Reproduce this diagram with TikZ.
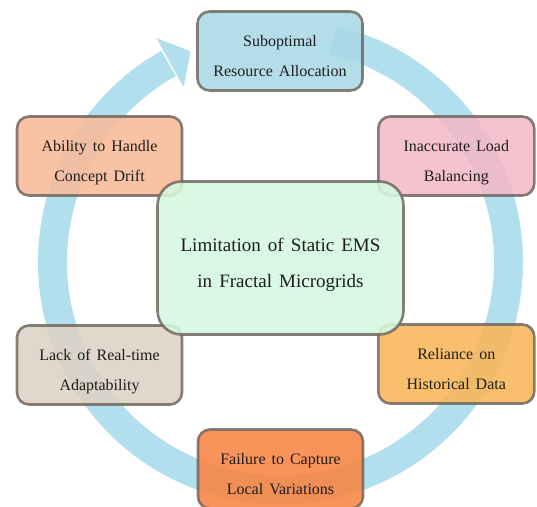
\documentclass[tikz,border=0pt]{standalone}
\usepackage{fontspec}
\setmainfont{Liberation Serif}[WordSpace=1.5]
\usetikzlibrary{calc}
\definecolor{ringc}{RGB}{178,223,238}
\definecolor{bordc}{RGB}{112,104,95}
\definecolor{txt}{RGB}{30,30,30}
\definecolor{cTop}{RGB}{170,216,231}
\definecolor{cAbil}{RGB}{249,186,152}
\definecolor{cInac}{RGB}{244,185,200}
\definecolor{cLack}{RGB}{222,210,197}
\definecolor{cReli}{RGB}{248,182,88}
\definecolor{cFail}{RGB}{248,132,66}
\definecolor{cCent}{RGB}{212,248,222}
\tikzset{
  box/.style={draw=bordc, line width=2.6pt, rounded corners=12pt,
    fill opacity=0.88, draw opacity=0.85, text opacity=1,
    align=center, text=txt, font=\fontsize{16}{30}\selectfont,
    inner sep=0pt, minimum width=165pt, minimum height=79pt,
    text height=51pt, text depth=0pt},
  bigbox/.style={box, rounded corners=24pt, font=\fontsize{19}{36}\selectfont,
    minimum width=246pt, minimum height=153pt, text height=60pt},
  ringline/.style={draw=ringc, line width=29pt, line cap=butt}
}
\begin{document}
\begin{tikzpicture}[x=1pt,y=1pt]
\useasboundingbox (0,0) rectangle (537,506);
\clip (0,0) rectangle (537,506);
\coordinate (C) at (280.5,244);
% ring arrow
\draw[ringline] (C) ++(76.7:228pt) arc[start angle=76.7, end angle=-240.6, radius=228pt];
\fill[ringc] ($(C)+(119:200pt)$) -- ($(C)+(119:256pt)$) -- ($(C)+(113.1:229pt)$) -- cycle;
% outer boxes
\node[box, fill=cTop] (top) at (280,455) {Suboptimal\\Resource Allocation};
\node[box, fill=cAbil] (abil) at (99.5,350) {Ability to Handle\\Concept Drift};
\node[box, fill=cInac, minimum width=156pt] (inac) at (456.3,350) {Inaccurate Load\\Balancing};
\node[box, fill=cLack] (lack) at (99.5,141) {Lack of Real-time\\Adaptability};
\node[box, fill=cReli, minimum width=156pt] (reli) at (456.3,142) {Reliance on\\Historical Data};
\node[box, fill=cFail] (fail) at (280.5,37) {Failure to Capture\\Local Variations};
% center box
\node[bigbox, fill=cCent] (cent) at (280.5,248) {Limitation of Static EMS\\in Fractal Microgrids};
\end{tikzpicture}
\end{document}
